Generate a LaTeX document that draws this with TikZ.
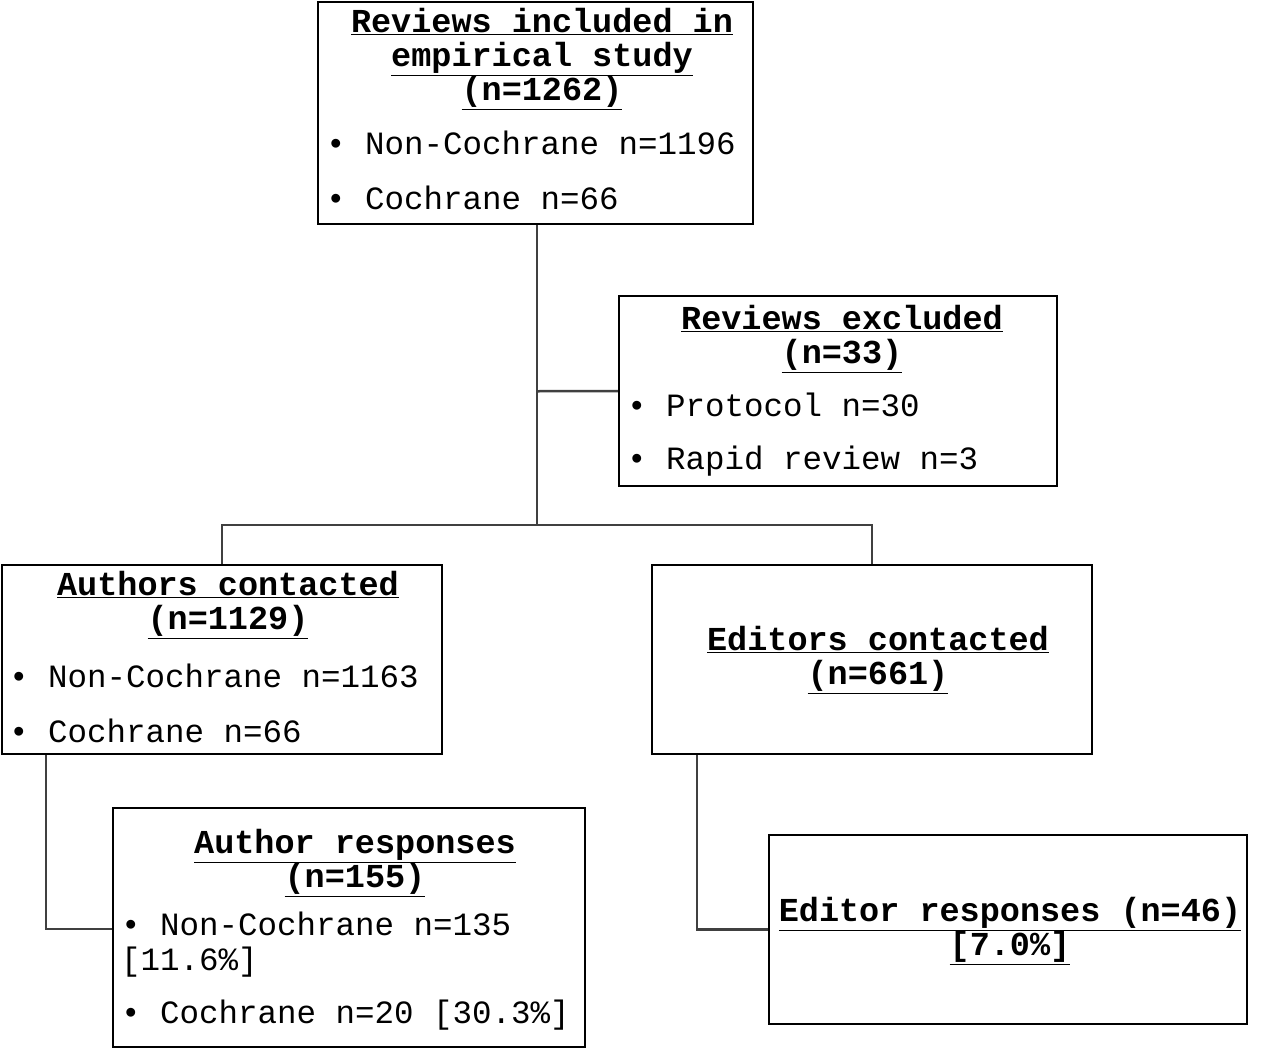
\documentclass[tikz,border=0pt]{standalone}
\usepackage{fontspec}
\setmainfont{Liberation Mono}
\usetikzlibrary{positioning}
\tikzset{%
  box/.style   = {draw, line width=2.5pt, inner sep=0pt},%
  title/.style = {font=\fontsize{33.5}{34}\selectfont\bfseries, align=center, inner sep=0pt},%
  item/.style  = {font=\fontsize{32.5}{35}\selectfont, anchor=west, inner sep=0pt, align=left},%
  link/.style  = {draw=black!75, line width=2.5pt}%
}
\newcommand{\ul}[1]{\underline{#1}}
\begin{document}
\begin{tikzpicture}[x=1pt,y=-1pt]
\useasboundingbox (0,0) rectangle (1267,1050);
% boxes
\node[box, minimum width=435pt, minimum height=222pt] (incl) at (535.5,113) {};
\node[box, minimum width=438pt, minimum height=190pt] (excl) at (838,391) {};
\node[box, minimum width=440pt, minimum height=189pt] (auth) at (222,659.5) {};
\node[box, minimum width=440pt, minimum height=189pt] (edit) at (872,659.5) {};
\node[box, minimum width=472pt, minimum height=239pt] (aresp) at (349,927.5) {};
\node[box, minimum width=478pt, minimum height=189pt] (eresp) at (1008,929.5) {};
% texts
\node[title] (inclT) at (542,59) {\ul{Reviews included in}\\\ul{empirical study}\\\ul{(n=1262)}};
\node[item] (incl1) at (326,143) {\textbullet{} Non-Cochrane n=1196};
\node[item] (incl2) at (326,198) {\textbullet{} Cochrane n=66};
\node[title] (exclT) at (842,339) {\ul{Reviews excluded}\\\ul{(n=33)}};
\node[item] (excl1) at (627,405) {\textbullet{} Protocol n=30};
\node[item] (excl2) at (627,461) {\textbullet{} Rapid review n=3};
\node[title] (authT) at (228,605) {\ul{Authors contacted}\\\ul{(n=1129)}};
\node[item] (auth1) at (9,676) {\textbullet{} Non-Cochrane n=1163};
\node[item] (auth2) at (9,731) {\textbullet{} Cochrane n=66};
\node[title] (editT) at (878,660) {\ul{Editors contacted}\\\ul{(n=661)}};
\node[title] (arespT) at (355,863) {\ul{Author responses}\\\ul{(n=155)}};
\node[item] (aresp1) at (121,945) {\textbullet{} Non-Cochrane n=135\\{[11.6\%]}};
\node[item] (aresp2) at (121,1015) {\textbullet{} Cochrane n=20 [30.3\%]};
\node[title] (erespT) at (1010,931) {\ul{Editor responses (n=46)}\\\ul{[7.0\%]}};
% connectors
\coordinate (split) at (537,525);
\draw[link] (incl.south -| split) -- (split);
\draw[link] (incl.south -| split) ++(0,166) -- (excl.west);
\draw[link] (auth.north) |- (split) -| (edit.north);
\draw[link] (auth.south -| 46,0) |- (aresp.west |- 0,929);
\draw[link] (edit.south -| 697,0) |- (eresp.west);
\end{tikzpicture}
\end{document}
